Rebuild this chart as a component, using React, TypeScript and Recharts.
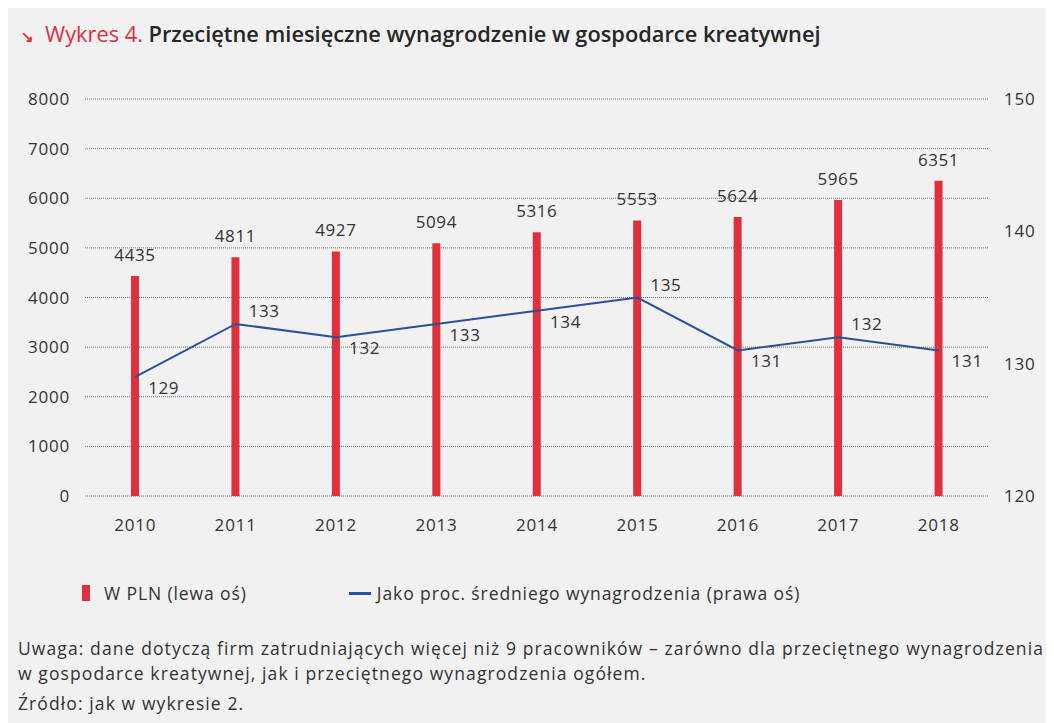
import { ComposedChart, Bar, Line, XAxis, YAxis, CartesianGrid, LabelList } from 'recharts'

const years = ['2010', '2011', '2012', '2013', '2014', '2015', '2016', '2017', '2018']
const salaryPln = [4435, 4811, 4927, 5094, 5316, 5553, 5624, 5965, 6351]
const pctOfAverage = [129, 133, 132, 133, 134, 135, 131, 132, 131]
const leftTicks = [0, 1000, 2000, 3000, 4000, 5000, 6000, 7000, 8000]
const rightTicks = [120, 130, 140, 150]
// where the % label sits relative to its point
const pctLabelAbove = [false, true, false, false, false, true, false, true, false]

const RED = '#e0303e'
const BLUE = '#2a4f9c'
const TEXT = '#333333'
const FONT = '"Open Sans", "Liberation Sans", sans-serif'
const TICK = { fontSize: 17, fill: TEXT, fontFamily: FONT, letterSpacing: 0.8 }

const data = years.map((year, i) => ({ year, pln: salaryPln[i], pct: pctOfAverage[i] }))

function PctLabel(props: any) {
  const { x, y, value, index } = props
  const above = pctLabelAbove[index]
  return (
    <text
      x={x + 13}
      y={above ? y - 7 : y + 17}
      fontSize={17}
      fill={TEXT}
      fontFamily={FONT}
      letterSpacing={0.6}
      textAnchor="start"
    >
      {value}
    </text>
  )
}

export default function App() {
  return (
    <div
      style={{
        position: 'relative',
        width: 1046,
        height: 715,
        background: '#f1f1f1',
        fontFamily: FONT,
        color: TEXT,
      }}
    >
      <div style={{ position: 'absolute', left: 13, top: 11, fontSize: 21.8, fontWeight: 600, whiteSpace: 'nowrap' }}>
        <span style={{ color: RED, fontSize: 15, marginRight: 11 }}>↘</span>
        <span style={{ color: RED, fontWeight: 500 }}>Wykres 4.</span>{' '}
        <span style={{ color: '#262626' }}>Przeciętne miesięczne wynagrodzenie w gospodarce kreatywnej</span>
      </div>

      <div style={{ position: 'absolute', left: 0, top: 0 }}>
        <ComposedChart width={1046} height={560} data={data} margin={{ top: 91, right: 0, bottom: 42, left: 0 }}>
          <CartesianGrid yAxisId="left" vertical={false} stroke="#6f6f6f" strokeDasharray="1 1" />
          <XAxis dataKey="year" axisLine={false} tickLine={false} tickMargin={17} height={30} tick={TICK} />
          <YAxis
            yAxisId="left"
            domain={[0, 8000]}
            ticks={leftTicks}
            axisLine={false}
            tickLine={false}
            tickMargin={9}
            width={77}
            tick={TICK}
          />
          <YAxis
            yAxisId="right"
            orientation="right"
            domain={[120, 150]}
            ticks={rightTicks}
            axisLine={false}
            tickLine={false}
            tickMargin={9}
            width={65}
            tick={{ ...TICK, textAnchor: 'start' }}
          />
          <Bar yAxisId="left" dataKey="pln" fill={RED} barSize={8} isAnimationActive={false}>
            <LabelList
              dataKey="pln"
              position="top"
              offset={15}
              fontSize={17}
              fill={TEXT}
              fontFamily={FONT}
              letterSpacing={0.6}
            />
          </Bar>
          <Line
            yAxisId="right"
            dataKey="pct"
            type="linear"
            stroke={BLUE}
            strokeWidth={2}
            dot={false}
            isAnimationActive={false}
          >
            <LabelList dataKey="pct" content={PctLabel} />
          </Line>
        </ComposedChart>
      </div>

      <div
        style={{
          position: 'absolute',
          left: 74,
          top: 573,
          fontSize: 17.5,
          letterSpacing: 0.9,
          display: 'flex',
          alignItems: 'center',
          whiteSpace: 'nowrap',
        }}
      >
        <span style={{ display: 'inline-block', width: 8, height: 16, background: RED, marginRight: 14 }} />
        <span>W PLN (lewa oś)</span>
        <span style={{ display: 'inline-block', width: 22, height: 3, background: BLUE, marginLeft: 102, marginRight: 6 }} />
        <span>Jako proc. średniego wynagrodzenia (prawa oś)</span>
      </div>

      <div
        style={{
          position: 'absolute',
          left: 10,
          top: 628,
          fontSize: 17.5,
          letterSpacing: 1.1,
          lineHeight: '25px',
          whiteSpace: 'nowrap',
        }}
      >
        <div>Uwaga: dane dotyczą firm zatrudniających więcej niż 9 pracowników – zarówno dla przeciętnego wynagrodzenia</div>
        <div>w gospodarce kreatywnej, jak i przeciętnego wynagrodzenia ogółem.</div>
        <div style={{ marginTop: 5 }}>Źródło: jak w wykresie 2.</div>
      </div>
    </div>
  )
}
